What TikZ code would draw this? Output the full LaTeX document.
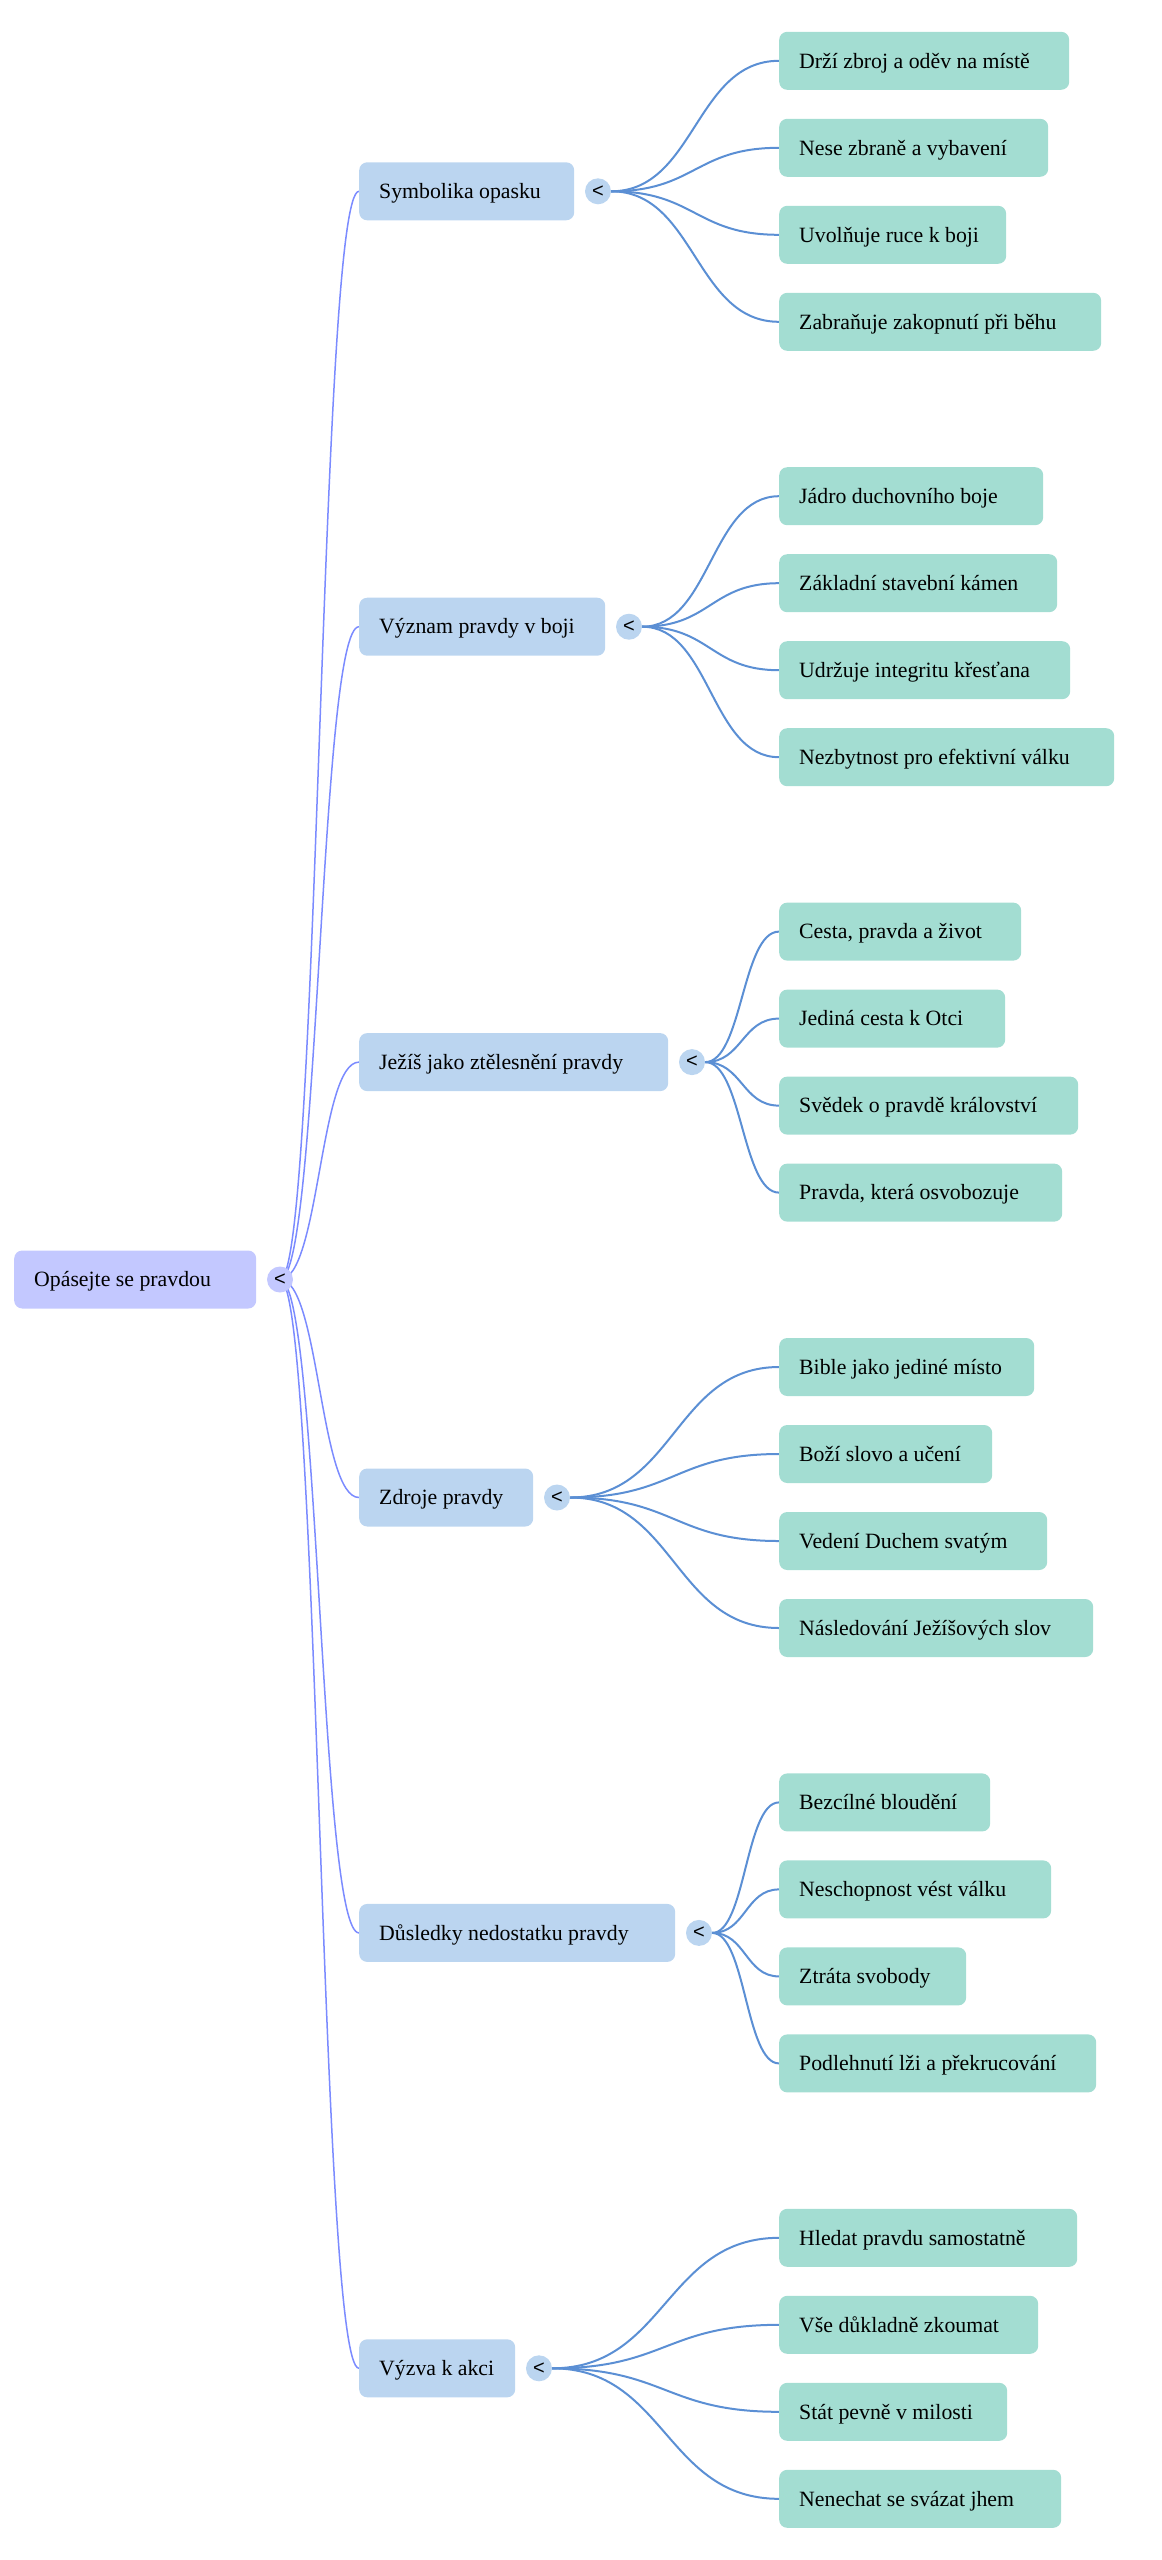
\documentclass[tikz,border=0pt]{standalone}
\usepackage{fontspec}
\setmainfont{Liberation Serif}
\newfontfamily\togfont{Liberation Sans}
\definecolor{rootfill}{HTML}{C3C8FF}
\definecolor{onefill}{HTML}{BBD5F0}
\definecolor{twofill}{HTML}{A3DDD2}
\definecolor{rootedge}{HTML}{7B8BFF}
\definecolor{oneedge}{HTML}{5B8FD4}
\newcommand\tb[2]{\makebox[#1pt][l]{#2}}
\pgfdeclarelayer{background}
\pgfsetlayers{background,main}
\begin{document}
\begin{tikzpicture}[x=1pt,y=-1pt,
  box/.style={anchor=west, rounded corners=8pt, minimum height=58pt, inner xsep=20pt, inner ysep=0pt, text height=14.5pt, text depth=0pt, font=\fontsize{21.8}{26}\selectfont},
  rootbox/.style={box, fill=rootfill},
  onebox/.style={box, fill=onefill},
  twobox/.style={box, fill=twofill},
  tog/.style={circle, minimum size=26pt, inner sep=0pt, font=\togfont\fontsize{20}{20}\selectfont},
  rootlink/.style={draw=rootedge, line width=1.5pt},
  onelink/.style={draw=oneedge, line width=2pt}]
\useasboundingbox (0,0) rectangle (1162,2560);

% root
\node[rootbox] (r) at (14,1279.5) {\tb{202}{Opásejte se pravdou}};
\node[tog, fill=rootfill] (rt) at (280,1279.5) {<};

% level 1
\node[onebox] (a1) at (359,191.3) {\tb{175}{Symbolika opasku}};
\node[onebox] (a2) at (359,626.7) {\tb{206}{Význam pravdy v boji}};
\node[onebox] (a3) at (359,1062.1) {\tb{269}{Ježíš jako ztělesnění pravdy}};
\node[onebox] (a4) at (359,1497.5) {\tb{134}{Zdroje pravdy}};
\node[onebox] (a5) at (359,1932.9) {\tb{276}{Důsledky nedostatku pravdy}};
\node[onebox] (a6) at (359,2368.3) {\tb{116}{Výzva k akci}};

\node[tog, fill=onefill] (t1) at (598,191.3) {<};
\node[tog, fill=onefill] (t2) at (629,626.7) {<};
\node[tog, fill=onefill] (t3) at (692,1062.1) {<};
\node[tog, fill=onefill] (t4) at (557,1497.5) {<};
\node[tog, fill=onefill] (t5) at (699,1932.9) {<};
\node[tog, fill=onefill] (t6) at (539,2368.3) {<};

% level 2
\node[twobox] (b11) at (779,60.8) {\tb{250}{Drží zbroj a oděv na místě}};
\node[twobox] (b12) at (779,147.8) {\tb{229}{Nese zbraně a vybavení}};
\node[twobox] (b13) at (779,234.8) {\tb{187}{Uvolňuje ruce k boji}};
\node[twobox] (b14) at (779,321.8) {\tb{282}{Zabraňuje zakopnutí při běhu}};

\node[twobox] (b21) at (779,496.2) {\tb{224}{Jádro duchovního boje}};
\node[twobox] (b22) at (779,583.2) {\tb{238}{Základní stavební kámen}};
\node[twobox] (b23) at (779,670.2) {\tb{251}{Udržuje integritu křesťana}};
\node[twobox] (b24) at (779,757.2) {\tb{295}{Nezbytnost pro efektivní válku}};

\node[twobox] (b31) at (779,931.6) {\tb{202}{Cesta, pravda a život}};
\node[twobox] (b32) at (779,1018.6) {\tb{186}{Jediná cesta k Otci}};
\node[twobox] (b33) at (779,1105.6) {\tb{259}{Svědek o pravdě království}};
\node[twobox] (b34) at (779,1192.6) {\tb{243}{Pravda, která osvobozuje}};

\node[twobox] (b41) at (779,1367) {\tb{215}{Bible jako jediné místo}};
\node[twobox] (b42) at (779,1454) {\tb{173}{Boží slovo a učení}};
\node[twobox] (b43) at (779,1541) {\tb{228}{Vedení Duchem svatým}};
\node[twobox] (b44) at (779,1628) {\tb{274}{Následování Ježíšových slov}};

\node[twobox] (b51) at (779,1802.4) {\tb{171}{Bezcílné bloudění}};
\node[twobox] (b52) at (779,1889.4) {\tb{232}{Neschopnost vést válku}};
\node[twobox] (b53) at (779,1976.4) {\tb{147}{Ztráta svobody}};
\node[twobox] (b54) at (779,2063.4) {\tb{277}{Podlehnutí lži a překrucování}};

\node[twobox] (b61) at (779,2237.8) {\tb{258}{Hledat pravdu samostatně}};
\node[twobox] (b62) at (779,2324.8) {\tb{219}{Vše důkladně zkoumat}};
\node[twobox] (b63) at (779,2411.8) {\tb{188}{Stát pevně v milosti}};
\node[twobox] (b64) at (779,2498.8) {\tb{242}{Nenechat se svázat jhem}};

% connectors (behind the nodes)
\begin{pgfonlayer}{background}
\foreach \g in {1,...,6}
  \draw[rootlink] (rt.center) .. controls +(39.5,0) and +(-39.5,0) .. (a\g.west);
\foreach \g/\d in {1/84,2/68.5,3/37,4/104.5,5/33.5,6/113.5}
  \foreach \i in {1,...,4}
    \draw[onelink] (t\g.east) .. controls +(\d,0) and +(-\d,0) .. (b\g\i.west);
\end{pgfonlayer}
\end{tikzpicture}
\end{document}
